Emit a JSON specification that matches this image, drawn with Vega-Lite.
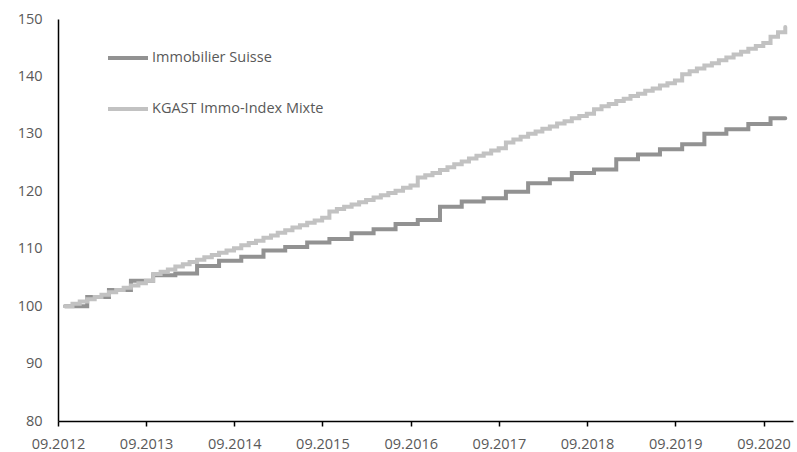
{
  "$schema": "https://vega.github.io/schema/vega-lite/v6.json",
  "width": 735,
  "height": 402,
  "autosize": {"type": "none"},
  "padding": {"left": 58, "top": 19, "right": 4, "bottom": 31},
  "background": "white",
  "config": {
    "view": {"stroke": null},
    "font": "Open Sans"
  },
  "datasets": {
    "immo": [
      {"date": "2012-09-30", "value": 100.0},
      {"date": "2012-12-31", "value": 101.6},
      {"date": "2013-03-31", "value": 102.8},
      {"date": "2013-06-30", "value": 104.4},
      {"date": "2013-09-30", "value": 105.4},
      {"date": "2013-12-31", "value": 105.7},
      {"date": "2014-03-31", "value": 107.0},
      {"date": "2014-06-30", "value": 107.9},
      {"date": "2014-09-30", "value": 108.6},
      {"date": "2014-12-31", "value": 109.7},
      {"date": "2015-03-31", "value": 110.3},
      {"date": "2015-06-30", "value": 111.1},
      {"date": "2015-09-30", "value": 111.7},
      {"date": "2015-12-31", "value": 112.7},
      {"date": "2016-03-31", "value": 113.4},
      {"date": "2016-06-30", "value": 114.3},
      {"date": "2016-09-30", "value": 115.0},
      {"date": "2016-12-31", "value": 117.3},
      {"date": "2017-03-31", "value": 118.2},
      {"date": "2017-06-30", "value": 118.8},
      {"date": "2017-09-30", "value": 119.9},
      {"date": "2017-12-31", "value": 121.4},
      {"date": "2018-03-31", "value": 122.1},
      {"date": "2018-06-30", "value": 123.2},
      {"date": "2018-09-30", "value": 123.8},
      {"date": "2018-12-31", "value": 125.6},
      {"date": "2019-03-31", "value": 126.4},
      {"date": "2019-06-30", "value": 127.3},
      {"date": "2019-09-30", "value": 128.2},
      {"date": "2019-12-31", "value": 130.0},
      {"date": "2020-03-31", "value": 130.8},
      {"date": "2020-06-30", "value": 131.7},
      {"date": "2020-09-30", "value": 132.7},
      {"date": "2020-11-30", "value": 132.7}
    ],
    "kgast": [
      {"date": "2012-09-30", "value": 100.0},
      {"date": "2012-10-31", "value": 100.4},
      {"date": "2012-11-30", "value": 100.8},
      {"date": "2012-12-31", "value": 101.2},
      {"date": "2013-01-31", "value": 101.6},
      {"date": "2013-02-28", "value": 102.0},
      {"date": "2013-03-31", "value": 102.4},
      {"date": "2013-04-30", "value": 102.8},
      {"date": "2013-05-31", "value": 103.2},
      {"date": "2013-06-30", "value": 103.6},
      {"date": "2013-07-31", "value": 104.0},
      {"date": "2013-08-31", "value": 104.4},
      {"date": "2013-09-30", "value": 105.6},
      {"date": "2013-10-31", "value": 106.0},
      {"date": "2013-11-30", "value": 106.4},
      {"date": "2013-12-31", "value": 106.9},
      {"date": "2014-01-31", "value": 107.3},
      {"date": "2014-02-28", "value": 107.7},
      {"date": "2014-03-31", "value": 108.1},
      {"date": "2014-04-30", "value": 108.5},
      {"date": "2014-05-31", "value": 108.9},
      {"date": "2014-06-30", "value": 109.3},
      {"date": "2014-07-31", "value": 109.7},
      {"date": "2014-08-31", "value": 110.1},
      {"date": "2014-09-30", "value": 110.6},
      {"date": "2014-10-31", "value": 111.0},
      {"date": "2014-11-30", "value": 111.4},
      {"date": "2014-12-31", "value": 111.9},
      {"date": "2015-01-31", "value": 112.3},
      {"date": "2015-02-28", "value": 112.8},
      {"date": "2015-03-31", "value": 113.2},
      {"date": "2015-04-30", "value": 113.7},
      {"date": "2015-05-31", "value": 114.1},
      {"date": "2015-06-30", "value": 114.5},
      {"date": "2015-07-31", "value": 114.9},
      {"date": "2015-08-31", "value": 115.4},
      {"date": "2015-09-30", "value": 116.5},
      {"date": "2015-10-31", "value": 116.9},
      {"date": "2015-11-30", "value": 117.3},
      {"date": "2015-12-31", "value": 117.7},
      {"date": "2016-01-31", "value": 118.1},
      {"date": "2016-02-29", "value": 118.5},
      {"date": "2016-03-31", "value": 118.9},
      {"date": "2016-04-30", "value": 119.3},
      {"date": "2016-05-31", "value": 119.7},
      {"date": "2016-06-30", "value": 120.1},
      {"date": "2016-07-31", "value": 120.6},
      {"date": "2016-08-31", "value": 121.0},
      {"date": "2016-09-30", "value": 122.4},
      {"date": "2016-10-31", "value": 122.8},
      {"date": "2016-11-30", "value": 123.2},
      {"date": "2016-12-31", "value": 123.7},
      {"date": "2017-01-31", "value": 124.2},
      {"date": "2017-02-28", "value": 124.7},
      {"date": "2017-03-31", "value": 125.2},
      {"date": "2017-04-30", "value": 125.7},
      {"date": "2017-05-31", "value": 126.2},
      {"date": "2017-06-30", "value": 126.6},
      {"date": "2017-07-31", "value": 127.1},
      {"date": "2017-08-31", "value": 127.5},
      {"date": "2017-09-30", "value": 128.5},
      {"date": "2017-10-31", "value": 129.0},
      {"date": "2017-11-30", "value": 129.5},
      {"date": "2017-12-31", "value": 130.0},
      {"date": "2018-01-31", "value": 130.4},
      {"date": "2018-02-28", "value": 130.9},
      {"date": "2018-03-31", "value": 131.3},
      {"date": "2018-04-30", "value": 131.8},
      {"date": "2018-05-31", "value": 132.2},
      {"date": "2018-06-30", "value": 132.7},
      {"date": "2018-07-31", "value": 133.1},
      {"date": "2018-08-31", "value": 133.5},
      {"date": "2018-09-30", "value": 134.3},
      {"date": "2018-10-31", "value": 134.8},
      {"date": "2018-11-30", "value": 135.2},
      {"date": "2018-12-31", "value": 135.7},
      {"date": "2019-01-31", "value": 136.1},
      {"date": "2019-02-28", "value": 136.6},
      {"date": "2019-03-31", "value": 137.0},
      {"date": "2019-04-30", "value": 137.5},
      {"date": "2019-05-31", "value": 137.9},
      {"date": "2019-06-30", "value": 138.4},
      {"date": "2019-07-31", "value": 138.8},
      {"date": "2019-08-31", "value": 139.3},
      {"date": "2019-09-30", "value": 140.4},
      {"date": "2019-10-31", "value": 140.9},
      {"date": "2019-11-30", "value": 141.4},
      {"date": "2019-12-31", "value": 141.9},
      {"date": "2020-01-31", "value": 142.3},
      {"date": "2020-02-29", "value": 142.8},
      {"date": "2020-03-31", "value": 143.3},
      {"date": "2020-04-30", "value": 143.8},
      {"date": "2020-05-31", "value": 144.3},
      {"date": "2020-06-30", "value": 144.8},
      {"date": "2020-07-31", "value": 145.3},
      {"date": "2020-08-31", "value": 145.8},
      {"date": "2020-09-30", "value": 146.9},
      {"date": "2020-10-31", "value": 147.7},
      {"date": "2020-11-30", "value": 148.6}
    ]
  },
  "layer": [
    {
      "data": {"name": "immo"},
      "transform": [{"calculate": "'Immobilier Suisse'", "as": "series"}],
      "mark": {"type": "line", "interpolate": "step-after", "strokeWidth": 4, "strokeCap": "round"},
      "encoding": {
        "x": {"field": "date", "type": "temporal"},
        "y": {"field": "value", "type": "quantitative"},
        "color": {"field": "series", "type": "nominal"}
      }
    },
    {
      "data": {"name": "kgast"},
      "transform": [{"calculate": "'KGAST Immo-Index Mixte'", "as": "series"}],
      "mark": {"type": "line", "interpolate": "step-after", "strokeWidth": 4, "strokeCap": "round"},
      "encoding": {
        "x": {
          "field": "date", "type": "temporal",
          "scale": {"domain": [{"year": 2012, "month": 9, "date": 1}, {"year": 2021, "month": 1, "date": 1}]},
          "axis": {
            "title": null,
            "values": [
              {"year": 2012, "month": 9, "date": 1},
              {"year": 2013, "month": 9, "date": 1},
              {"year": 2014, "month": 9, "date": 1},
              {"year": 2015, "month": 9, "date": 1},
              {"year": 2016, "month": 9, "date": 1},
              {"year": 2017, "month": 9, "date": 1},
              {"year": 2018, "month": 9, "date": 1},
              {"year": 2019, "month": 9, "date": 1},
              {"year": 2020, "month": 9, "date": 1}
            ],
            "format": "%m.%Y",
            "grid": false,
            "domainColor": "#000000",
            "domainWidth": 1.5,
            "tickColor": "#000000",
            "tickWidth": 1.5,
            "tickSize": 5,
            "labelColor": "#595959",
            "labelFont": "Open Sans",
            "labelFontSize": 14.5,
            "labelPadding": 11,
            "labelFlush": false
          }
        },
        "y": {
          "field": "value", "type": "quantitative",
          "scale": {"domain": [80, 150], "nice": false, "zero": false},
          "axis": {
            "title": null,
            "values": [80, 90, 100, 110, 120, 130, 140, 150],
            "grid": false,
            "ticks": false,
            "domainColor": "#000000",
            "domainWidth": 1.5,
            "labelColor": "#595959",
            "labelFont": "Open Sans",
            "labelFontSize": 14.5,
            "labelPadding": 16
          }
        },
        "color": {
          "field": "series", "type": "nominal",
          "scale": {"domain": ["Immobilier Suisse", "KGAST Immo-Index Mixte"], "range": ["#929292", "#c2c2c2"]},
          "legend": {
            "title": null,
            "orient": "none",
            "legendX": 48,
            "legendY": 17,
            "symbolType": "stroke",
            "symbolSize": 1600,
            "symbolStrokeWidth": 4,
            "labelColor": "#595959",
            "labelFont": "Open Sans",
            "labelFontSize": 14.5,
            "labelOffset": 2,
            "labelLimit": 0,
            "rowPadding": 21,
            "padding": 0
          }
        }
      }
    }
  ]
}
